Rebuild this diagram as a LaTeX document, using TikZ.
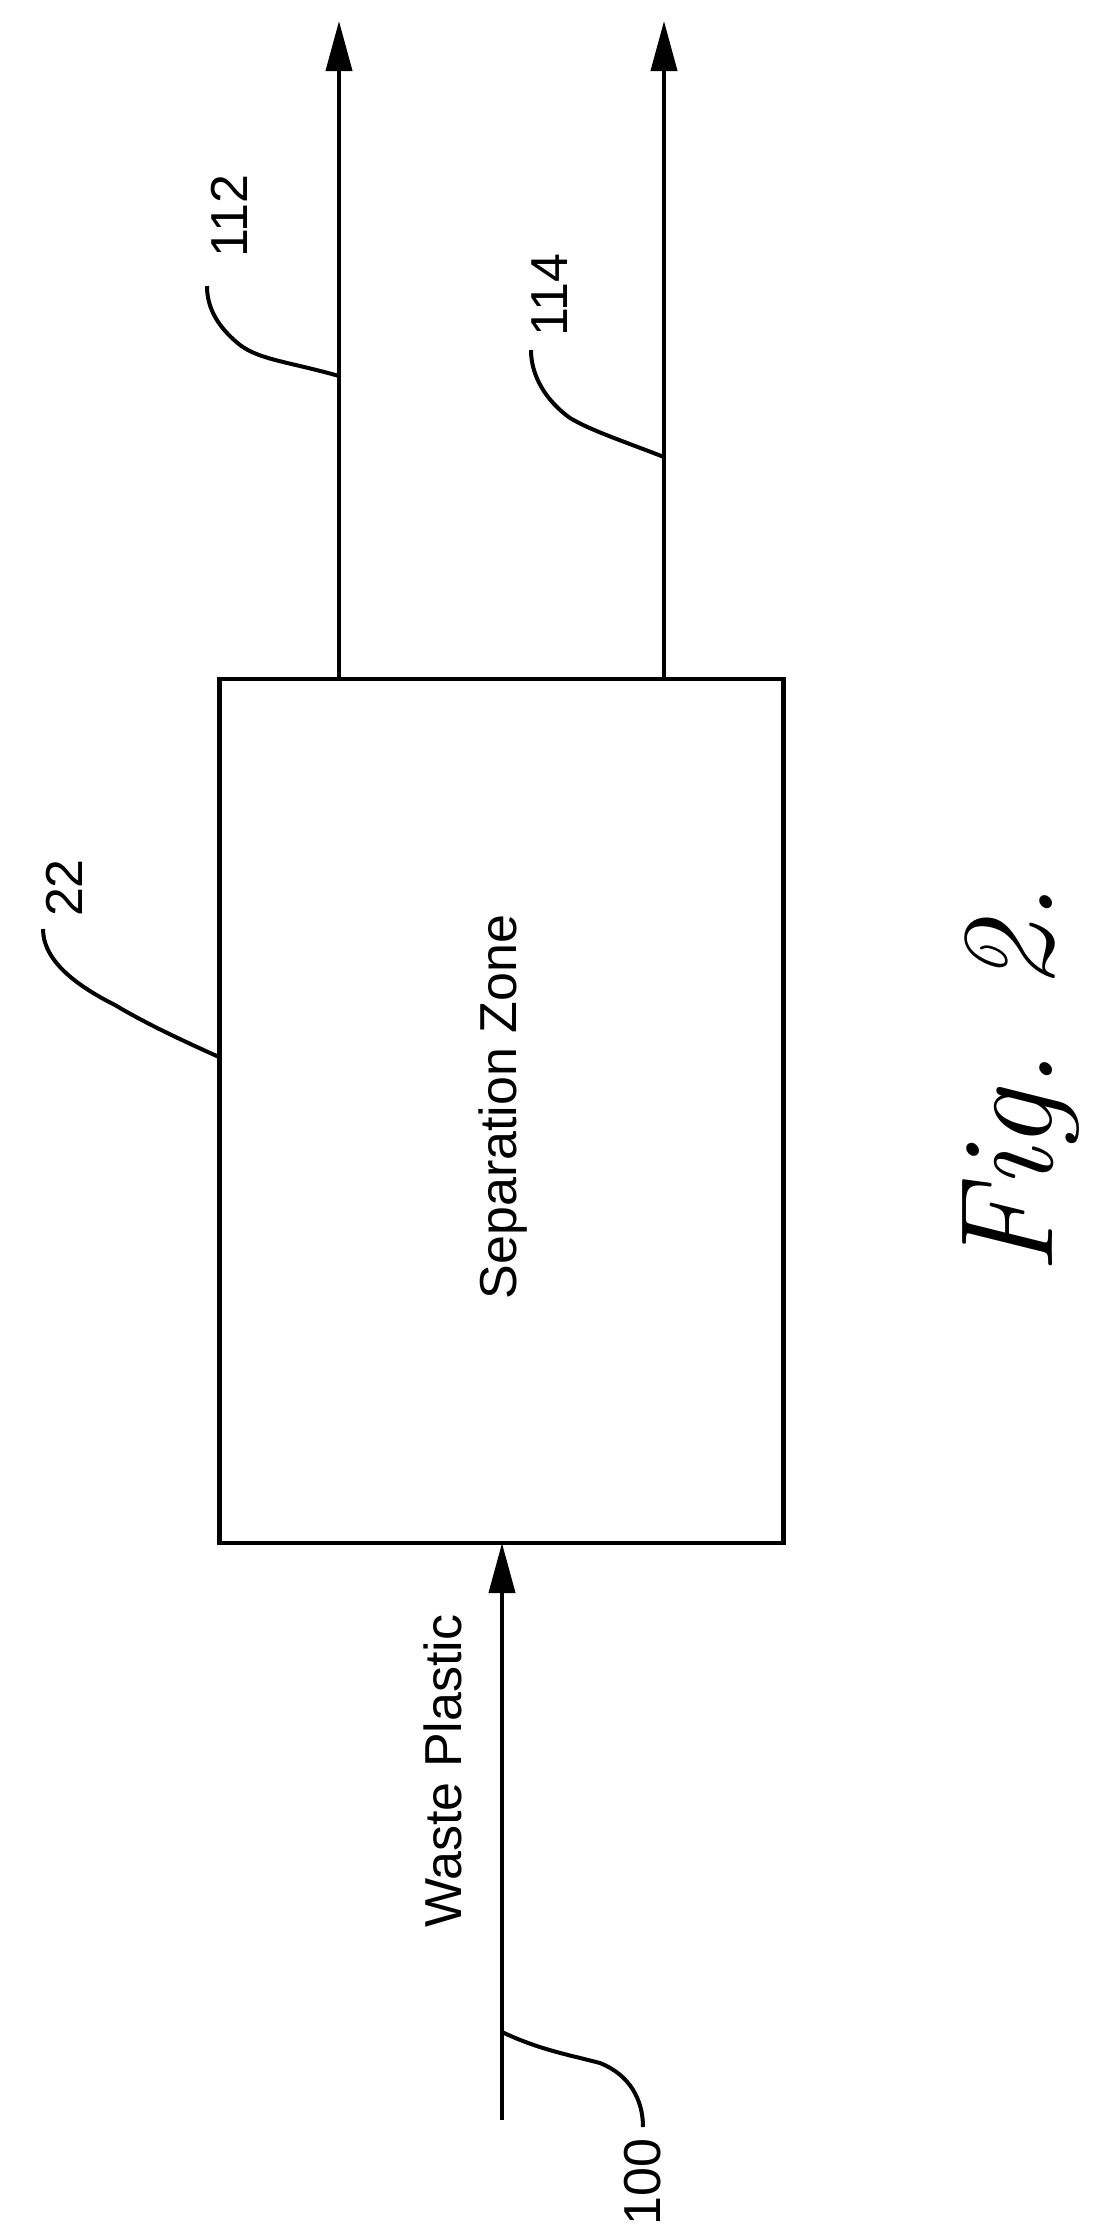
\documentclass[tikz,border=0pt]{standalone}
\usepackage{fontspec}
\setmainfont{Liberation Sans}
\newfontfamily\figfont{Latin Modern Roman}
\usetikzlibrary{arrows.meta}
\begin{document}
\begin{tikzpicture}[x=0.5pt,y=-0.5pt,
  ln/.style={line width=2pt},
  flow/.style={ln,-{Triangle[length=25pt,width=13pt]}},
  lead/.style={line width=2pt},
  lbl/.style={rotate=90,font=\fontsize{26}{30}\selectfont,inner sep=0pt}]
\useasboundingbox (0,0) rectangle (1120,2240);
\node[draw,line width=2.2pt,minimum width=282pt,minimum height=432pt,inner sep=0pt] (box) at (501.5,1111) {};
\node[lbl] (sz) at (503,1107) {Separation Zone};
\coordinate (t1) at (339,21);
\coordinate (t2) at (664,21);
\coordinate (b1) at (339,679);
\coordinate (b2) at (664,679);
\draw[flow] (b1) -- (t1);
\draw[flow] (b2) -- (t2);
\coordinate (in) at (502,2120);
\coordinate (ie) at (502,1543);
\draw[flow] (in) -- (ie);
\node[lbl] (wp) at (443,1771) {Waste Plastic};
\node[lbl] (l112) at (229,216) {112};
\node[lbl] (l114) at (550,295) {114};
\node[lbl] (l22) at (64,888) {22};
\node[lbl] (l100) at (643,2182) {100};
\coordinate (p112) at (339,376);
\coordinate (p114) at (664,457);
\coordinate (p22) at (219,1057);
\coordinate (p100) at (502,2032);
\draw[lead] (p112) .. controls (290,362) and (260,360) .. (240,345) .. controls (215,325) and (207,305) .. (207,286);
\draw[lead] (p114) .. controls (620,440) and (590,430) .. (570,418) .. controls (545,400) and (531,375) .. (531,350);
\draw[lead] (p22) .. controls (170,1035) and (140,1020) .. (115,1005) .. controls (75,985) and (43,960) .. (43,929);
\draw[lead] (p100) .. controls (540,2050) and (570,2055) .. (600,2063) .. controls (630,2075) and (643,2100) .. (643,2127);
\node[rotate=90,font=\fontsize{66}{70}\selectfont\figfont\itshape,inner sep=0pt] (fig) at (1021,1079) {Fig. 2.};
\end{tikzpicture}
\end{document}
